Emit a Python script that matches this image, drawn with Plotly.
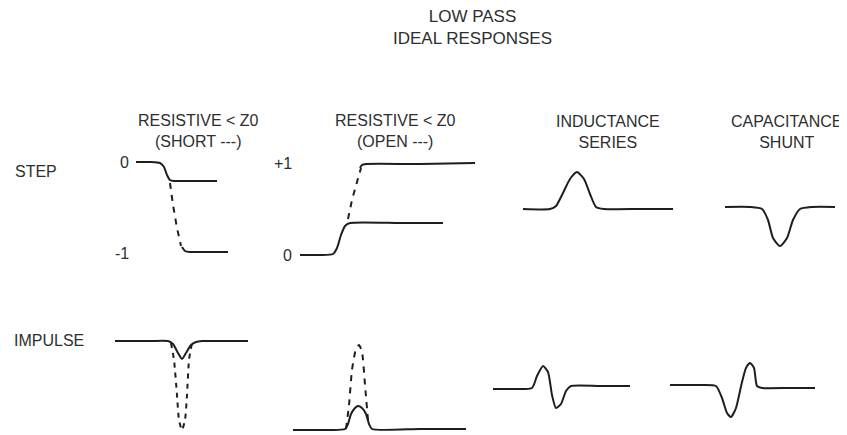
import plotly.graph_objects as go

W, H = 847, 435
PAGE_MARGIN = 8  # browser default body margin

# ---- text labels ----
title_lines = ["LOW PASS", "IDEAL RESPONSES"]
column_labels = ["RESISTIVE < Z0<br>(SHORT ---)", "RESISTIVE < Z0<br>(OPEN ---)",
                 "INDUCTANCE<br>SERIES", "CAPACITANCE<br>SHUNT"]
column_x = [198, 395, 608, 786]
column_y = [131, 131, 132, 132]
row_labels = ["STEP", "IMPULSE"]
row_x = [13, 12]
row_y = [171, 340]
level_labels = ["0", "-1", "+1", "0"]
level_x = [124, 122, 283, 287]
level_y = [162, 253, 163, 255]

# ---- waveforms (diagram coordinates) ----
# STEP, short
step_short_top_x = [136, 150, 160, 164, 167, 170, 174, 190, 217]
step_short_top_y = [162, 162, 163, 167, 175, 180, 181, 181, 181]
step_short_dash_x = [170, 173, 177, 181]
step_short_dash_y = [183, 205, 228, 246]
step_short_bot_x = [182, 185, 190, 210, 228]
step_short_bot_y = [247, 251, 252, 252, 252]

# STEP, open
step_open_low_x = [300, 320, 333, 337, 341, 345, 350, 400, 443]
step_open_low_y = [255, 255, 254, 248, 235, 226, 223, 223, 223]
step_open_dash_x = [348, 352, 357, 361]
step_open_dash_y = [219, 200, 182, 168]
step_open_top_x = [360, 362, 366, 420, 475]
step_open_top_y = [168, 165, 164, 164, 163]

# STEP, inductance series
step_ind_x = [523, 550, 556, 563, 570, 577, 584, 590, 596, 604, 640, 673]
step_ind_y = [209, 209, 206, 193, 179, 172, 179, 194, 207, 209, 209, 209]

# STEP, capacitance shunt
step_cap_x = [725, 750, 762, 768, 773, 780, 787, 793, 800, 812, 835]
step_cap_y = [207, 207, 209, 220, 238, 246, 238, 220, 209, 207, 207]

# IMPULSE, short
imp_short_line_x = [115, 150, 168, 173, 178, 182, 186, 191, 196, 202, 225, 248]
imp_short_line_y = [341, 341, 341, 344, 353, 359, 353, 345, 342, 341, 341, 341]
imp_short_dash_x = [171, 174, 177, 179, 182, 185, 187, 189, 192]
imp_short_dash_y = [343, 360, 395, 420, 430, 420, 395, 360, 343]

# IMPULSE, open
imp_open_base_x = [293, 330, 345, 348, 351, 355, 358, 362, 366, 369, 372, 420, 466]
imp_open_base_y = [430, 430, 429, 424, 414, 408, 406, 408, 414, 424, 429, 429, 429]
imp_open_dash_x = [346, 349, 352, 356, 359, 362, 365, 368]
imp_open_dash_y = [429, 405, 370, 349, 345, 352, 385, 420]

# IMPULSE, inductance series
imp_ind_x = [493, 515, 532, 537, 543, 548, 552, 556, 561, 566, 571, 600, 630]
imp_ind_y = [389, 389, 388, 376, 366, 372, 395, 408, 404, 391, 386, 386, 386]

# IMPULSE, capacitance shunt
imp_cap_x = [670, 700, 716, 722, 727, 731, 736, 742, 746, 750, 754, 757, 762, 790, 815]
imp_cap_y = [385, 385, 386, 398, 413, 417, 408, 382, 368, 363, 368, 386, 388, 388, 388]

INK = "#1e1e1e"
TXT = "#2e2e2e"

fig = go.Figure()

def curve(xs, ys, dash="solid", width=2.0, shape="spline"):
    fig.add_trace(go.Scatter(
        x=xs, y=ys, mode="lines",
        line=dict(color=INK, width=width, dash=dash, shape=shape, smoothing=0.6),
        hoverinfo="skip", showlegend=False, cliponaxis=False))

DASH = "6px,6px"
curve(step_short_top_x, step_short_top_y)
curve(step_short_dash_x, step_short_dash_y, dash=DASH, shape="linear")
curve(step_short_bot_x, step_short_bot_y)
curve(step_open_low_x, step_open_low_y)
curve(step_open_dash_x, step_open_dash_y, dash=DASH, shape="linear")
curve(step_open_top_x, step_open_top_y)
curve(step_ind_x, step_ind_y)
curve(step_cap_x, step_cap_y)
curve(imp_short_dash_x, imp_short_dash_y, dash="5px,5px")
curve(imp_short_line_x, imp_short_line_y)
curve(imp_open_dash_x, imp_open_dash_y, dash="6px,6px")
curve(imp_open_base_x, imp_open_base_y)
curve(imp_ind_x, imp_ind_y)
curve(imp_cap_x, imp_cap_y)

FONT = "Liberation Sans, Arial, sans-serif"
ann = []
ann.append(dict(x=472, y=27, text="<br>".join(title_lines), showarrow=False,
                font=dict(family=FONT, size=17, color=TXT), xanchor="center", yanchor="middle"))
for t, x, y in zip(column_labels, column_x, column_y):
    ann.append(dict(x=x, y=y, text=t, showarrow=False,
                    font=dict(family=FONT, size=16, color=TXT), xanchor="center", yanchor="middle"))
for t, x, y in zip(row_labels, row_x, row_y):
    ann.append(dict(x=x, y=y, text=t, showarrow=False,
                    font=dict(family=FONT, size=16, color=TXT), xanchor="left", yanchor="middle"))
for t, x, y in zip(level_labels, level_x, level_y):
    ann.append(dict(x=x, y=y, text=t, showarrow=False,
                    font=dict(family=FONT, size=16, color=TXT), xanchor="center", yanchor="middle"))

fig.update_layout(
    width=W - PAGE_MARGIN, height=H - PAGE_MARGIN,
    margin=dict(l=0, r=0, t=0, b=0),
    paper_bgcolor="white", plot_bgcolor="white",
    xaxis=dict(range=[PAGE_MARGIN, W], visible=False, fixedrange=True),
    yaxis=dict(range=[H, PAGE_MARGIN], visible=False, fixedrange=True),
    annotations=ann,
    showlegend=False,
)

fig.write_html("out.html", config={"displayModeBar": False})
